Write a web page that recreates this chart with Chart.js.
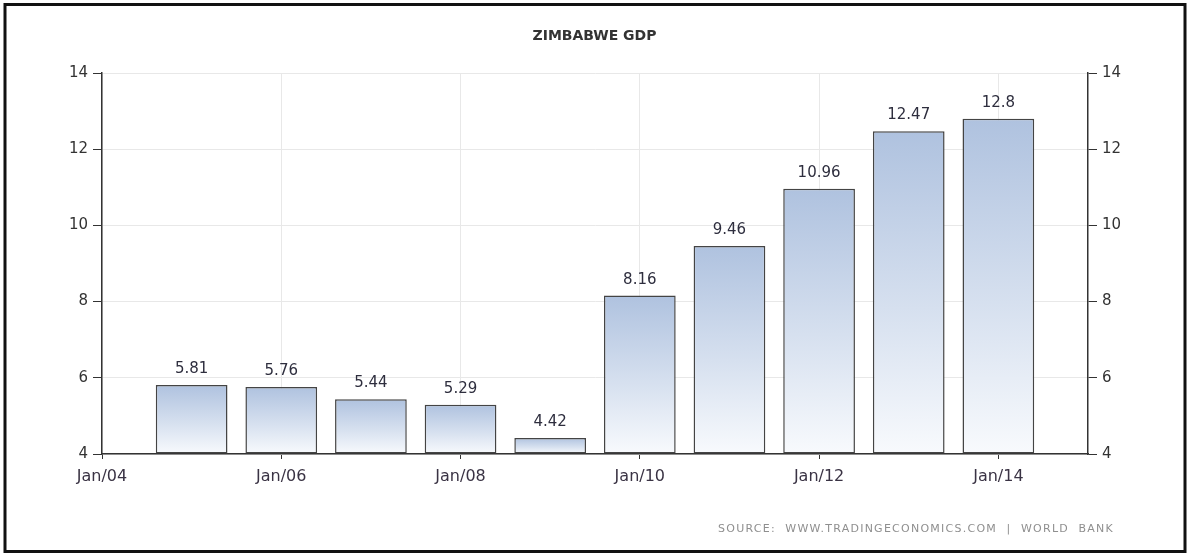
<!DOCTYPE html>
<html>
<head>
<meta charset="utf-8">
<title>Zimbabwe GDP</title>
<script src="https://cdn.jsdelivr.net/npm/chart.js@4.4.1/dist/chart.umd.min.js"></script>
<style>
  html, body { margin: 0; padding: 0; background: #fff; }
  #gdpChart { display: block; }
</style>
</head>
<body>
<canvas id="gdpChart" width="1189" height="555"></canvas>
<script>
// GDP, billions of USD, one bar per year (plotted at January)
var years = [2005, 2006, 2007, 2008, 2009, 2010, 2011, 2012, 2013, 2014];
var gdp = [5.81, 5.76, 5.44, 5.29, 4.42, 8.16, 9.46, 10.96, 12.47, 12.8];

// x axis ticks, every second January
var tickYears = [2004, 2006, 2008, 2010, 2012, 2014];
var tickLabels = ['Jan/04', 'Jan/06', 'Jan/08', 'Jan/10', 'Jan/12', 'Jan/14'];

var chartTitle = 'ZIMBABWE GDP';
var sourceText = 'SOURCE:  WWW.TRADINGECONOMICS.COM  |  WORLD  BANK';

var FONT = 'DejaVu Sans';
var axisColor = '#333333';
var gridColor = '#e8e8e8';

// top-to-bottom fade inside each bar
function barGradient(context) {
  var chart = context.chart;
  var area = chart.chartArea;
  if (!area || context.dataIndex === undefined) return '#b4c6e0';
  var yScale = chart.scales.y;
  var top = yScale.getPixelForValue(gdp[context.dataIndex]);
  var bottom = yScale.getPixelForValue(yScale.min);
  var g = chart.ctx.createLinearGradient(0, top, 0, bottom);
  g.addColorStop(0, '#afc2df');
  g.addColorStop(0.55, '#d6e0ef');
  g.addColorStop(1, '#f8fafd');
  return g;
}

// numbers above the bars, source line and the frame
var decorations = {
  id: 'decorations',
  afterDatasetsDraw: function(chart) {
    var ctx = chart.ctx;
    var meta = chart.getDatasetMeta(0);
    ctx.save();
    ctx.font = '15px "' + FONT + '"';
    ctx.fillStyle = '#2e2e3e';
    ctx.textAlign = 'center';
    ctx.textBaseline = 'alphabetic';
    meta.data.forEach(function(bar, i) {
      ctx.fillText(String(gdp[i]), bar.x, bar.y - 12);
    });
    ctx.restore();
  },
  afterDraw: function(chart) {
    var ctx = chart.ctx;
    ctx.save();
    ctx.font = '11px "' + FONT + '"';
    ctx.fillStyle = '#8f8f8f';
    ctx.textAlign = 'left';
    ctx.textBaseline = 'alphabetic';
    var target = 395;
    var w = ctx.measureText(sourceText).width;
    ctx.letterSpacing = ((target - w) / (sourceText.length - 1)).toFixed(2) + 'px';
    ctx.fillText(sourceText, 718, 532);
    ctx.restore();

    ctx.save();
    ctx.strokeStyle = '#111111';
    ctx.lineWidth = 3;
    ctx.strokeRect(5, 4.5, 1180, 547);
    ctx.restore();
  }
};

function yAxis(position, width) {
  return {
    type: 'linear',
    position: position,
    min: 4,
    max: 14,
    ticks: {
      stepSize: 2,
      color: axisColor,
      padding: 5,
      font: { family: FONT, size: 15 }
    },
    grid: {
      color: gridColor,
      tickColor: axisColor,
      tickLength: 9,
      drawOnChartArea: position === 'left'
    },
    border: { color: axisColor, width: 1.5 },
    afterFit: function(scale) { scale.width = width; }
  };
}

new Chart(document.getElementById('gdpChart'), {
  type: 'bar',
  data: {
    datasets: [{
      label: 'GDP',
      data: years.map(function(y, i) { return { x: y, y: gdp[i] }; }),
      base: 4,
      backgroundColor: barGradient,
      borderColor: '#444444',
      borderWidth: 1.5,
      borderSkipped: false,
      categoryPercentage: 1,
      barPercentage: 0.8
    }]
  },
  options: {
    responsive: false,
    animation: false,
    layout: { padding: 0 },
    plugins: {
      legend: { display: false },
      tooltip: { enabled: false },
      title: {
        display: true,
        text: chartTitle,
        color: '#333333',
        font: { family: FONT, size: 14, weight: 'bold', lineHeight: 1 },
        padding: { top: 29, bottom: 30 }
      }
    },
    scales: {
      x: {
        type: 'linear',
        min: 2004,
        max: 2015,
        offset: false,
        afterBuildTicks: function(scale) {
          scale.ticks = tickYears.map(function(v) { return { value: v }; });
        },
        ticks: {
          color: '#3a3344',
          padding: 8,
          maxRotation: 0,
          autoSkip: false,
          font: { family: FONT, size: 16 },
          callback: function(value) {
            var i = tickYears.indexOf(value);
            return i >= 0 ? tickLabels[i] : '';
          }
        },
        grid: {
          offset: false,
          color: gridColor,
          tickColor: axisColor,
          tickLength: 5
        },
        border: { color: axisColor, width: 1.5 },
        afterFit: function(scale) { scale.height = 101; }
      },
      y: yAxis('left', 102),
      y2: yAxis('right', 101)
    }
  },
  plugins: [decorations]
});
</script>
</body>
</html>
